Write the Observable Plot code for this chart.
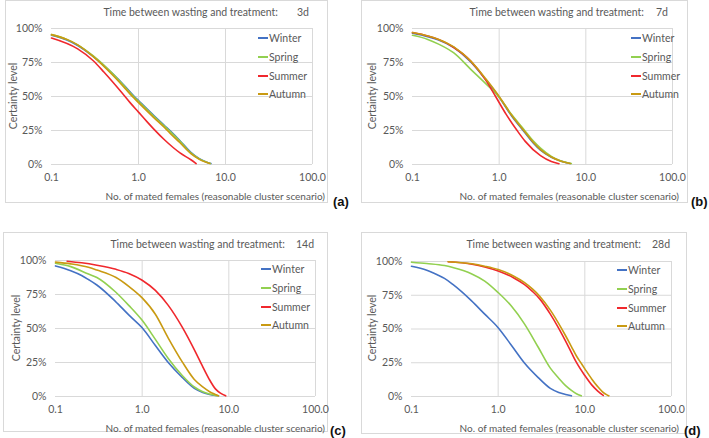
<!DOCTYPE html>
<html>
<head>
<meta charset="utf-8">
<script src="https://cdn.jsdelivr.net/npm/d3@7"></script>
<script src="https://cdn.jsdelivr.net/npm/@observablehq/plot@0.6"></script>
<style>
  html, body { margin: 0; padding: 0; background: #fff; }
  #root { position: relative; width: 709px; height: 438px; overflow: hidden; font-family: Lato, "Open Sans", sans-serif; color: #595959; }
  .abs { position: absolute; white-space: nowrap; }
  .frame { position: absolute; border: 1px solid #d9d9d9; box-sizing: border-box; }
  .plotbox { position: absolute; }
  .plotbox svg { display: block; }
</style>
</head>
<body>
<div id="root"></div>
<script>
// ---------- data ----------
const seasons = ["Winter", "Spring", "Summer", "Autumn"];
const seasonColors = ["#4472C4", "#92D050", "#F0282D", "#C99A12"];
const xTicks = [0.1, 1, 10, 100];
const yTicks = [0, 25, 50, 75, 100];
const panelLetters = ["(a)", "(b)", "(c)", "(d)"];
const panelDays = ["3d", "7d", "14d", "28d"];
const titleText = "Time between wasting and treatment:";
const xTitle = "No. of mated females (reasonable cluster scenario)";
const yTitle = "Certainty level";

// panel (a) 3d
const aWinter = [[0.1,95],[0.15,91.5],[0.2,87.5],[0.3,79.5],[0.5,67],[0.7,57.5],[0.88,50.5],[1,47],[1.5,36],[2,28.5],[2.33,24.5],[3,17.5],[4,9],[5,4.3],[6,1.9],[6.8,0.7]];
const aSpring = [[0.1,95.5],[0.15,92],[0.2,88],[0.3,80],[0.5,67],[0.7,57],[0.88,50],[1,46.5],[1.5,35.5],[2,28],[2.33,24],[3,17],[4,8.5],[5,4.1],[6,1.8],[6.7,0.7]];
const aSummer = [[0.1,93],[0.2,85],[0.3,76.5],[0.4,68],[0.5,61],[0.62,54],[0.8,45.5],[1,38.5],[1.25,31.5],[1.5,26],[2,18],[2.5,12.5],[3,8.5],[4,3.5],[4.6,0.7]];
const aAutumn = [[0.1,95.5],[0.15,92],[0.2,88],[0.3,79.5],[0.5,66],[0.7,56],[0.85,50],[1,45.5],[1.5,34.5],[2,27],[2.3,23],[3,16],[4,8],[5,3.8],[6,1.6],[6.6,0.7]];

// panel (b) 7d
const bWinter = [[0.1,96.5],[0.15,94],[0.2,91.5],[0.3,86],[0.47,75.5],[0.7,62.5],[1,49.5],[1.4,35.5],[1.92,24.5],[2.5,15.5],[3,10.5],[4,5.3],[5,2.7],[6,1.3],[6.6,0.7]];
const bSpring = [[0.1,95],[0.15,92],[0.2,88.5],[0.3,82],[0.47,70],[0.7,59.5],[1,49.5],[1.4,36.5],[1.92,26],[2.5,17],[3,12],[4,6],[5,3],[6,1.5],[6.8,0.7]];
const bSummer = [[0.1,97],[0.15,94.5],[0.2,92],[0.3,86],[0.47,76],[0.7,62],[0.91,50],[1.2,37],[1.61,25],[2,17],[3,6.5],[4,2.2],[4.9,0.6]];
const bAutumn = [[0.1,97],[0.15,94.5],[0.2,92],[0.3,86.5],[0.47,76],[0.7,63],[1,50],[1.4,36],[1.92,25],[2.5,16],[3,11],[4,5.5],[5,2.8],[6,1.3],[6.6,0.7]];

// panel (c) 14d
const cWinter = [[0.1,96],[0.15,92.5],[0.2,89],[0.24,86],[0.3,82],[0.49,70],[0.7,60],[1,50.5],[1.42,37.5],[2,25],[2.9,14],[4,6],[5,3],[6,1.5],[7.6,0.5]];
const cSpring = [[0.1,98],[0.15,95.5],[0.24,90],[0.3,87.5],[0.49,77],[0.7,67],[1,56],[1.42,42],[2,28],[2.9,15.5],[4,7],[5,3.5],[6,1.8],[7.3,0.5]];
const cSummer = [[0.136,99.5],[0.2,98.3],[0.3,96.5],[0.5,93.5],[0.7,90.5],[1,85.5],[1.42,78],[2,67],[2.9,51],[4.1,33],[4.9,23],[5.9,13],[7,5.6],[8,2.5],[9.2,0.5]];
const cAutumn = [[0.1,98.8],[0.15,97.5],[0.24,95],[0.3,93],[0.5,87.5],[0.7,81],[1,72.5],[1.42,60.5],[2,43],[2.9,25.5],[4,12.5],[5,7],[6,3.5],[7,1.5],[7.6,0.5]];

// panel (d) 28d
const dWinter = [[0.1,96.5],[0.15,93.5],[0.2,90],[0.24,87.5],[0.3,83],[0.49,71],[0.7,61],[1,51],[1.42,38],[2,25],[2.9,14],[4,6],[5,3],[6,1.5],[7,0.5]];
const dSpring = [[0.1,99.5],[0.15,98.5],[0.24,97],[0.3,95.5],[0.49,91],[0.7,85.5],[1,77],[1.42,67],[2,54],[2.9,36.5],[4,21],[5,13.5],[6,8],[7,4.5],[8,2],[9.1,0.5]];
const dSummer = [[0.265,99.8],[0.5,98],[0.7,96],[1,93],[1.5,88],[2,83],[2.5,77.7],[3,72.5],[4,61],[5,50.5],[6,41],[7,32.5],[8,25.2],[10,15.5],[12,8.6],[14,4.2],[16.3,0.8]];
const dAutumn = [[0.265,99.8],[0.5,98.3],[0.7,96.5],[1,94],[1.5,89.3],[2,84.5],[2.5,79.5],[3,74.5],[4,64],[5,54],[6,45],[7,37],[8,30],[9.1,24.5],[10,20.5],[12,13],[14,7.5],[16,3.5],[18,1.2],[18.9,0.5]];

const panelSeries = [
  [aWinter, aSpring, aSummer, aAutumn],
  [bWinter, bSpring, bSummer, bAutumn],
  [cWinter, cSpring, cSummer, cAutumn],
  [dWinter, dSpring, dSummer, dAutumn]
];

// ---------- layout (pixels in the 709x438 page) ----------
const layouts = [
  {frame:[5,0,328,203], plot:[51,28,312,164], titleEnd:[278,12], days:[297,12], legend:[258,38], ytitle:[13,96], xtitleRight:325, xtitleY:196, letter:[333,201]},
  {frame:[361,0,688,203], plot:[412,28,672,164], titleEnd:[644,12], days:[656,12], legend:[631,38], ytitle:[372,96], xtitleRight:679, xtitleY:196, letter:[691,201]},
  {frame:[3,232,328,432], plot:[55,260,315,396], titleEnd:[285,243.5], days:[296,243.5], legend:[261,269], ytitle:[16,328], xtitleRight:325, xtitleY:428, letter:[330,430]},
  {frame:[361,232,687,434], plot:[411,261,671,396], titleEnd:[641,243.5], days:[652,243.5], legend:[617,270], ytitle:[372,328], xtitleRight:679, xtitleY:428, letter:[684,430]}
];

const root = document.getElementById("root");
function addText(txt, x, y, css, anchor) {
  const d = document.createElement("div");
  d.className = "abs";
  d.textContent = txt;
  d.style.left = x + "px";
  d.style.top = y + "px";
  const tx = anchor === "end" ? "-100%" : anchor === "middle" ? "-50%" : "0";
  d.style.transform = css.rotate ? "translate(-50%, -50%) rotate(-90deg)" : `translate(${tx}, -50%)`;
  Object.assign(d.style, css.style || {});
  root.appendChild(d);
  return d;
}

layouts.forEach((L, i) => {
  const [fl, ft, fr, fb] = L.frame;
  const [pl, pt, pr, pb] = L.plot;
  const frameDiv = document.createElement("div");
  frameDiv.className = "frame";
  Object.assign(frameDiv.style, {left: fl + "px", top: ft + "px", width: (fr - fl) + "px", height: (fb - ft) + "px"});
  root.appendChild(frameDiv);

  const data = panelSeries[i].flatMap((pts, k) => pts.map(([x, y]) => ({x, y, season: seasons[k]})));

  const chart = Plot.plot({
    width: fr - fl,
    height: fb - ft,
    marginLeft: pl - fl,
    marginRight: fr - pr,
    marginTop: pt - ft,
    marginBottom: fb - pb,
    style: {fontFamily: "Lato, 'Open Sans', sans-serif", fontSize: "10.5px", color: "#595959", background: "transparent", overflow: "visible"},
    x: {type: "log", domain: [0.1, 100]},
    y: {domain: [0, 100]},
    color: {domain: seasons, range: seasonColors},
    marks: [
      Plot.gridY(yTicks, {stroke: "#d9d9d9", strokeOpacity: 1}),
      Plot.gridX(xTicks.slice(1), {stroke: "#d9d9d9", strokeOpacity: 1}),
      Plot.axisX(xTicks, {tickSize: 0, tickPadding: 9, tickFormat: d => d.toFixed(1), label: null, fill: "#595959"}),
      Plot.axisY(yTicks, {tickSize: 0, tickPadding: 9, tickFormat: d => d + "%", label: null, fill: "#595959"}),
      Plot.line(data, {x: "x", y: "y", z: "season", stroke: "season", strokeWidth: 1.6, curve: "monotone-x"})
    ]
  });
  const box = document.createElement("div");
  box.className = "plotbox";
  box.style.left = fl + "px";
  box.style.top = ft + "px";
  box.appendChild(chart);
  root.appendChild(box);

  const base = {style: {fontSize: "10.5px", color: "#595959"}};
  addText(titleText, L.titleEnd[0], L.titleEnd[1], base, "end");
  addText(panelDays[i], L.days[0], L.days[1], base, "start");
  addText(xTitle, L.xtitleRight, L.xtitleY, {style: {fontSize: "10px", color: "#595959"}}, "end");
  addText(yTitle, L.ytitle[0], L.ytitle[1], {rotate: true, style: {fontSize: "10.5px", color: "#595959"}});
  addText(panelLetters[i], L.letter[0], L.letter[1], {style: {fontSize: "13px", fontWeight: "bold", color: "#111", fontFamily: "'Liberation Sans', Arial, sans-serif"}}, "start");

  seasons.forEach((s, k) => {
    const y = Math.round(L.legend[1] + k * 18.8);
    const ln = document.createElement("div");
    ln.className = "abs";
    Object.assign(ln.style, {left: L.legend[0] + "px", top: (y - 1) + "px", width: "10px", height: "2px", background: seasonColors[k]});
    root.appendChild(ln);
    addText(s, L.legend[0] + 11, y, {style: {fontSize: "10.5px", color: "#595959"}}, "start");
  });
});
</script>
</body>
</html>
